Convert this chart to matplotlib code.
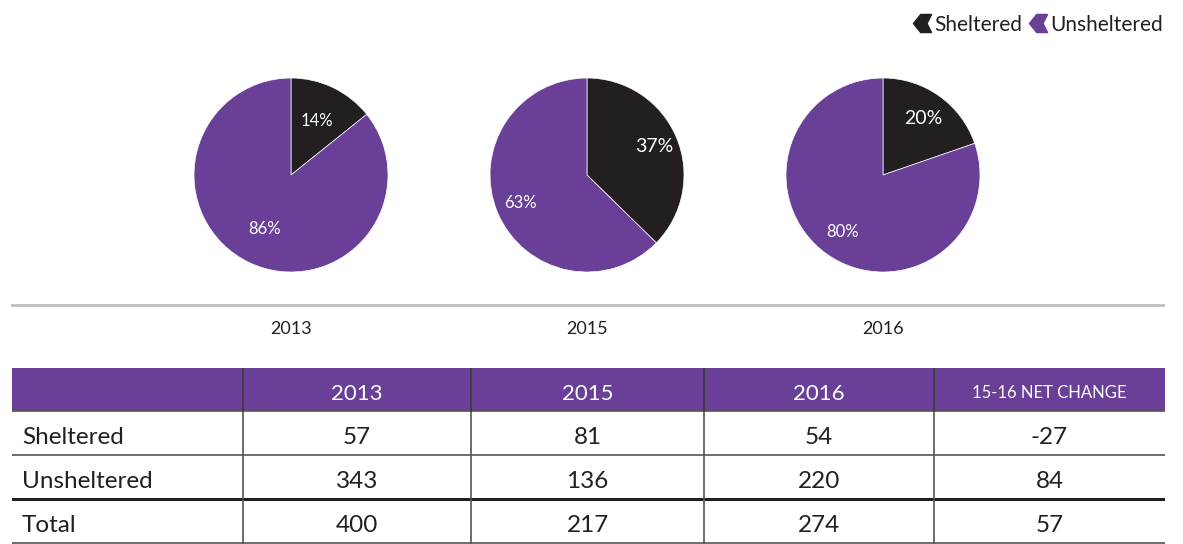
import matplotlib
matplotlib.use("Agg")
import matplotlib.pyplot as plt
from matplotlib.patches import Rectangle
from matplotlib.path import Path
from matplotlib.lines import Line2D

plt.rcParams['font.family'] = ['Lato', 'DejaVu Sans']

years = ["2013", "2015", "2016"]
sheltered = [57, 81, 54]
unsheltered = [343, 136, 220]
totals = [400, 217, 274]
net_change = [-27, 84, 57]
header = ["", "2013", "2015", "2016", "15-16 NET CHANGE"]
row_names = ["Sheltered", "Unsheltered", "Total"]

purple = "#6A3F97"
dark = "#231F20"
txt = "#231F20"

W, H = 1183, 544
fig = plt.figure(figsize=(W / 100, H / 100), dpi=100)


def px_axes(x0, y0, w, h):
    # pixel box (top-left origin) -> figure axes
    return fig.add_axes([x0 / W, 1 - (y0 + h) / H, w / W, h / H])


# pies
centers = [291, 587, 883]
r = 97
pct_dist = [0.62, 0.75, 0.72]
for i, yr in enumerate(years):
    ax = px_axes(centers[i] - r, 175 - r, 2 * r, 2 * r)
    vals = [sheltered[i], unsheltered[i]]
    wedges, texts, autotexts = ax.pie(
        vals, colors=[dark, purple], startangle=90, counterclock=False,
        autopct=lambda p: "%d%%" % round(p), pctdistance=pct_dist[i],
        wedgeprops=dict(linewidth=0.5, edgecolor="white"), radius=1)
    for t in autotexts:
        t.set_color("white")
        t.set_fontsize(12)
    autotexts[0].set_fontsize(14 if i else 12)
    ax.set_xlim(-1, 1)
    ax.set_ylim(-1, 1)
    ax.set_aspect("equal")
    fig.text(centers[i] / W, 1 - 329 / H, yr, ha="center", va="center",
             fontsize=13, color=txt)

# separator line
fig.add_artist(Line2D([12 / W, 1163 / W], [1 - 305 / H, 1 - 305 / H],
                      color="#BDBDBD", linewidth=2))

# legend with chevron markers
chev = Path([(1, 1), (-0.2, 1), (-1, 0), (-0.2, -1), (1, -1), (0.5, 0), (1, 1)],
            [Path.MOVETO] + [Path.LINETO] * 5 + [Path.CLOSEPOLY])
handles = [Line2D([], [], marker=chev, color=c, linestyle="", markersize=13)
           for c in (dark, purple)]
fig.legend(handles, ["Sheltered", "Unsheltered"], loc="upper right",
           bbox_to_anchor=(1182 / W, 1 + 4 / H), ncol=2, frameon=False,
           fontsize=15, handletextpad=0.15, columnspacing=0.3, handlelength=0.9,
           labelcolor=txt)

# table
tx0, ty0, tw, th = 12, 368, 1153, 176
tax = px_axes(tx0, ty0, tw, th)
tax.set_xlim(tx0, tx0 + tw)
tax.set_ylim(ty0 + th, ty0)
tax.axis("off")
col_x = [12, 243, 471, 704, 934, 1165]
row_y = [368, 411, 455, 499, 543]
tax.add_patch(Rectangle((col_x[0], row_y[0]), col_x[-1] - col_x[0],
                        row_y[1] - row_y[0], color=purple, lw=0))
for j, h in enumerate(header):
    if h:
        cx = (col_x[j] + col_x[j + 1]) / 2
        tax.text(cx, (row_y[0] + row_y[1]) / 2 + 4, h, ha="center", va="center",
                 color="white", fontsize=12 if j == 4 else 16)
rows = [[str(v) for v in sheltered] + [str(net_change[0])],
        [str(v) for v in unsheltered] + [str(net_change[1])],
        [str(v) for v in totals] + [str(net_change[2])]]
for i, name in enumerate(row_names):
    cy = (row_y[i + 1] + row_y[i + 2]) / 2 + 4
    tax.text(col_x[0] + 10, cy, name, ha="left", va="center", fontsize=17.5,
             color=txt)
    for j, v in enumerate(rows[i]):
        cx = (col_x[j + 1] + col_x[j + 2]) / 2
        tax.text(cx, cy, v, ha="center", va="center", fontsize=17.5, color=txt)
# grid lines
for k, y in enumerate(row_y[1:]):
    lw = 2.2 if k == 2 else 1.2
    tax.plot([col_x[0], col_x[-1]], [y, y], color="#555555" if k != 2 else dark,
             lw=lw)
for x in col_x[1:-1]:
    tax.plot([x, x], [row_y[0], row_y[-1]], color="#555555", lw=1.2)
    tax.plot([x, x], [row_y[0], row_y[1]], color="#3a3a3a", lw=1.2)

fig.savefig("out.png", dpi=100)
